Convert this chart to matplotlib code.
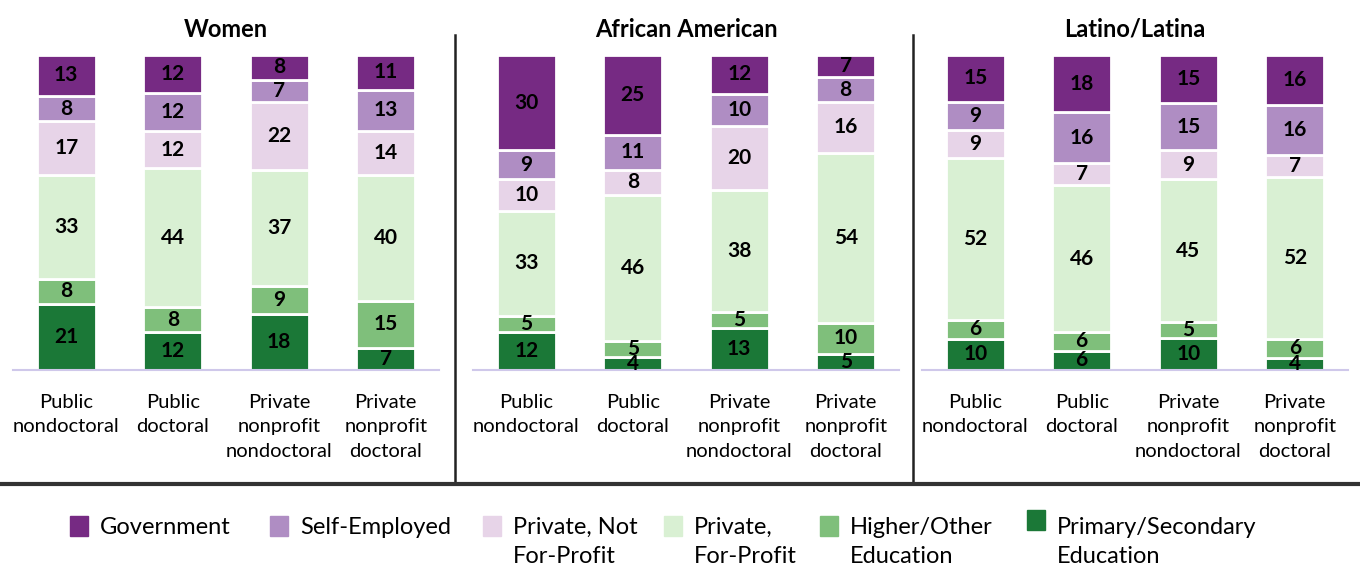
import numpy as np
import matplotlib.pyplot as plt
from matplotlib.lines import Line2D
from matplotlib.patches import Rectangle

plt.rcParams['font.family'] = ['Lato', 'DejaVu Sans']

# Data (bottom to top of each stack), percent
panels = ['Women', 'African American', 'Latino/Latina']
institutions = ['Public\nnondoctoral', 'Public\ndoctoral',
                'Private\nnonprofit\nnondoctoral', 'Private\nnonprofit\ndoctoral']
sectors = ['Primary/Secondary\nEducation', 'Higher/Other\nEducation',
           'Private,\nFor-Profit', 'Private, Not\nFor-Profit',
           'Self-Employed', 'Government']
colors = ['#1b7837', '#7fbf7b', '#d9f0d3', '#e7d4e8', '#af8dc3', '#762a83']

women = [[21, 12, 18, 7],
         [8, 8, 9, 15],
         [33, 44, 37, 40],
         [17, 12, 22, 14],
         [8, 12, 7, 13],
         [13, 12, 8, 11]]
african_american = [[12, 4, 13, 5],
                    [5, 5, 5, 10],
                    [33, 46, 38, 54],
                    [10, 8, 20, 16],
                    [9, 11, 10, 8],
                    [30, 25, 12, 7]]
latino = [[10, 6, 10, 4],
          [6, 6, 5, 6],
          [52, 46, 45, 52],
          [9, 7, 9, 7],
          [9, 16, 15, 16],
          [15, 18, 15, 16]]
data = [women, african_american, latino]

fig = plt.figure(figsize=(13.6, 5.72), dpi=100)
W, H = 1360, 572

lefts = [13, 473, 922]
x = np.arange(len(institutions))
for left, title, vals in zip(lefts, panels, data):
    ax = fig.add_axes([left / W, (H - 370) / H, 426 / W, 315 / H])
    vals = np.array(vals, dtype=float)
    share = vals / vals.sum(axis=0) * 100  # 100% stacked
    bottom = np.zeros(len(institutions))
    for v, s, c in zip(vals, share, colors):
        bars = ax.bar(x, s, 0.555, bottom=bottom, color=c,
                      edgecolor='white', linewidth=2, zorder=2)
        ax.bar_label(bars, labels=[str(int(n)) for n in v], label_type='center',
                     fontsize=15, fontweight='bold', color='black')
        bottom += s
    ax.set_xlim(-0.5, 3.5)
    ax.set_ylim(0, 100)
    ax.set_xticks(x)
    ax.set_xticklabels(institutions, fontsize=14.5, linespacing=1.55)
    ax.tick_params(axis='x', length=0, pad=17)
    ax.set_yticks([])
    for s in ['top', 'right', 'left']:
        ax.spines[s].set_visible(False)
    ax.spines['bottom'].set_color('#cfc8ea')
    ax.spines['bottom'].set_linewidth(1.5)
    ax.set_title(title, fontsize=17, fontweight='bold', pad=13)

# panel separators
for xs in [455, 913]:
    fig.add_artist(Line2D([xs / W, xs / W], [(H - 35) / H, (H - 484) / H],
                          color='#222222', lw=1.8))
fig.add_artist(Line2D([0, 1], [(H - 484) / H] * 2, color='#333333', lw=3))

# legend
leg_x = [70, 270, 483, 664, 820, 1027]
leg_order = list(range(len(sectors)))[::-1]
for lx, i in zip(leg_x, leg_order):
    sq_y = 516 if i != 0 else 510
    fig.add_artist(Rectangle((lx / W, (H - sq_y - 20) / H), 18 / W, 20 / H,
                             color=colors[i], transform=fig.transFigure))
    fig.text((lx + 30) / W, (H - 517) / H, sectors[i], fontsize=17,
             va='top', ha='left', linespacing=1.48)

fig.savefig('out.png', dpi=100)
